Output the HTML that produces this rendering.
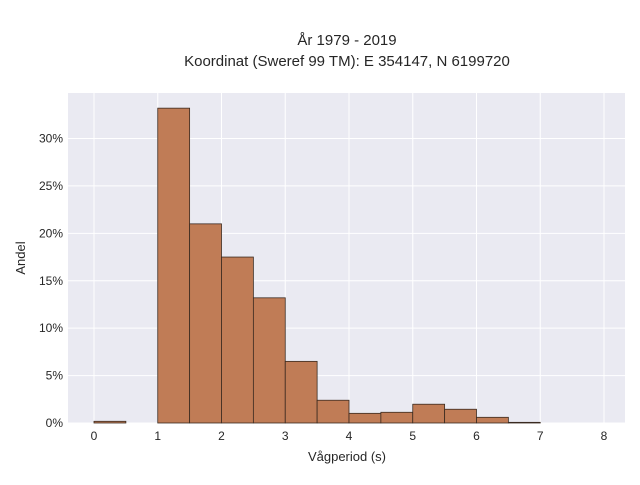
<!DOCTYPE html>
<html><head><meta charset="utf-8"><style>
body{margin:0;background:#fff;font-family:"Liberation Sans",sans-serif;}
svg text{font-family:"Liberation Sans",sans-serif;fill:#262626;}
</style></head><body>
<svg width="640" height="480">
<text x="347" y="45" font-size="15" text-anchor="middle">År 1979 - 2019</text>
<text x="347" y="66" font-size="15" text-anchor="middle">Koordinat (Sweref 99 TM): E 354147, N 6199720</text>
<rect x="68" y="93" width="557" height="330" fill="#eaeaf2"/>
<g id="grid"></g><g id="bars"></g><g id="ticks"></g>
<text x="347" y="461" font-size="13" text-anchor="middle">Vågperiod (s)</text>
<text transform="translate(25,258) rotate(-90)" font-size="13" text-anchor="middle">Andel</text>
</svg>
<script>
const binStarts=[0,0.5,1,1.5,2,2.5,3,3.5,4,4.5,5,5.5,6,6.5,7,7.5];
const shares=[0.18,0,33.2,21.0,17.5,13.2,6.5,2.4,1.02,1.13,1.98,1.45,0.6,0.07,0,0];
const binWidth=0.5;
const xTicks=[0,1,2,3,4,5,6,7,8];
const yTicks=[0,5,10,15,20,25,30];
const NS="http://www.w3.org/2000/svg";
const x=v=>94+v*63.75;
const y=v=>423-v*9.483;
const grid=document.getElementById('grid'),bars=document.getElementById('bars'),ticks=document.getElementById('ticks');
function mk(tag,attrs,parent){const e=document.createElementNS(NS,tag);for(const k in attrs)e.setAttribute(k,attrs[k]);parent.appendChild(e);return e;}
xTicks.forEach(t=>{
 const l=mk('line',{x1:x(t),x2:x(t),y1:93,y2:423,stroke:'#fff','stroke-width':1},grid);
 
 
 const tx=mk('text',{x:x(t),y:440,'font-size':12,'text-anchor':'middle'},ticks);
 tx.textContent=t;
 
 
});
yTicks.forEach(t=>{
 const l=mk('line',{x1:68,x2:625,y1:y(t),y2:y(t),stroke:'#fff','stroke-width':1},grid);
 
 
 const tx=mk('text',{x:63,y:y(t)+4,'font-size':12,'text-anchor':'end'},ticks);
 tx.textContent=t+'%';
 
 
});
binStarts.forEach((b,i)=>{
 const v=shares[i]; if(v<=0)return;
 const r=mk('rect',{x:x(b),y:y(v),width:x(b+binWidth)-x(b),height:y(0)-y(v),fill:'#c07c56',stroke:'#3a2a20','stroke-width':0.8},bars);
 
 
});
</script>
</body></html>
